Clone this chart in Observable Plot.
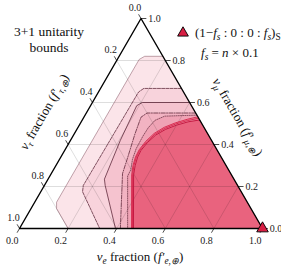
<!DOCTYPE html>
<html><head><meta charset="utf-8">
<script src="https://cdn.jsdelivr.net/npm/d3@7"></script>
<script src="https://cdn.jsdelivr.net/npm/@observablehq/plot@0.6"></script>
<style>
body{margin:0;background:#fff;}
#chart svg{display:block;}
</style></head><body><div id="chart"></div>
<script>
// ternary axis ticks
const tickValues = [0, 0.2, 0.4, 0.6, 0.8, 1.0];
const tickLabels = ["0.0", "0.2", "0.4", "0.6", "0.8", "1.0"];
const gridValues = [0.2, 0.4, 0.6, 0.8];

// region boundaries as [f_e, f_mu] pairs (f_tau = 1 - f_e - f_mu), from right edge to base
const layer1 = [[0.18,0.82],[0.105,0.82],[0.09,0.805],[0.09,0.125],[0.105,0.095],[0.20,0]];
const layer2 = [[0.333,0.667],[0.178,0.667],[0.165,0.65],[0.16,0.205],[0.172,0.175],[0.33,0]];
const layer3 = [[0.40,0.60],[0.205,0.60],[0.19,0.585],[0.205,0.42],[0.232,0.235],[0.25,0.205],[0.395,0]];
const layer4 = [[0.45,0.55],[0.25,0.55],[0.235,0.53],[0.25,0.45],[0.278,0.33],[0.293,0.262],[0.415,0]];
const layer5 = [[0.46,0.54],[0.33,0.535],[0.30,0.515],[0.29,0.48],[0.288,0.44],[0.29,0.38],[0.30,0.33],[0.318,0.28],[0.32,0.25],[0.445,0]];
const redEdge = [[0.483,0.517],[0.44,0.508],[0.40,0.492],[0.365,0.472],[0.338,0.445],[0.322,0.41],[0.314,0.372],[0.316,0.34],[0.326,0.30],[0.342,0.255],[0.469,0]];
const redLine2 = [[0.475,0.525],[0.435,0.514],[0.395,0.498],[0.36,0.477],[0.333,0.449],[0.317,0.412],[0.309,0.373],[0.311,0.34],[0.321,0.30],[0.338,0.255],[0.465,0]];
const redLine3 = [[0.468,0.532],[0.43,0.52],[0.39,0.503],[0.355,0.482],[0.328,0.453],[0.312,0.415],[0.305,0.375],[0.307,0.34],[0.317,0.30],[0.334,0.255],[0.461,0]];
const corners = [[0,0],[1,0],[0,1]];
const source = [[1,0]];

const tern = ([fe, fm]) => ({x: fe + fm / 2, y: fm});
const closed = pts => [...pts, [1, 0]].map(tern);
const open = pts => pts.map(tern);

const grid = [];
for (const v of gridValues) {
  grid.push({a: tern([v, 0]), b: tern([v, 1 - v])});
  grid.push({a: tern([0, v]), b: tern([1 - v, v])});
  grid.push({a: tern([1 - v, 0]), b: tern([0, 1 - v])});
}
const ticksData = tickValues.map((v, i) => ({v, label: tickLabels[i]}));

const dark = "#4a1426";
const red = "#d4173f";

const chart = Plot.plot({
  width: 281, height: 266,
  marginLeft: 19, marginRight: 19, marginTop: 18, marginBottom: 38,
  x: {domain: [0, 1], axis: null},
  y: {domain: [0, 1], axis: null},
  style: {fontFamily: "Liberation Serif", fontSize: "10px", overflow: "visible", background: "#fff"},
  marks: [
    Plot.line(closed(layer1), {x: "x", y: "y", fill: "#fbe4e9", stroke: "none"}),
    Plot.line(closed(layer2), {x: "x", y: "y", fill: "#f8d3dc", stroke: "none"}),
    Plot.line(closed(layer3), {x: "x", y: "y", fill: "#f5c3cf", stroke: "none"}),
    Plot.line(closed(layer4), {x: "x", y: "y", fill: "#f2b3c2", stroke: "none"}),
    Plot.line(closed(layer5), {x: "x", y: "y", fill: "#efa3b5", stroke: "none"}),
    Plot.line(closed(redLine3), {x: "x", y: "y", fill: "#ec8a9f", stroke: "none"}),
    Plot.line(closed(redEdge), {x: "x", y: "y", fill: "#e9637e", stroke: "none"}),
    Plot.link(grid, {x1: d => d.a.x, y1: d => d.a.y, x2: d => d.b.x, y2: d => d.b.y, stroke: "#000", strokeOpacity: 0.22, strokeWidth: 0.6}),
    Plot.line(open(layer1), {x: "x", y: "y", stroke: "#8a5a68", strokeWidth: 0.55}),
    Plot.line(open(layer2), {x: "x", y: "y", stroke: dark, strokeWidth: 0.7, strokeDasharray: "3,1.2"}),
    Plot.line(open(layer3), {x: "x", y: "y", stroke: dark, strokeWidth: 0.7}),
    Plot.line(open(layer4), {x: "x", y: "y", stroke: dark, strokeWidth: 0.7, strokeDasharray: "4,1.3,1,1.3"}),
    Plot.line(open(layer5), {x: "x", y: "y", stroke: dark, strokeWidth: 0.6, strokeDasharray: "1,1.2"}),
    Plot.line(open(redLine3), {x: "x", y: "y", stroke: red, strokeWidth: 0.8}),
    Plot.line(open(redLine2), {x: "x", y: "y", stroke: red, strokeWidth: 0.8}),
    Plot.line(open(redEdge), {x: "x", y: "y", stroke: "#c0103a", strokeWidth: 0.9}),
    Plot.line([...corners, corners[0]].map(tern), {x: "x", y: "y", stroke: "#000", strokeWidth: 1.4}),
    // ticks: f_e (bottom), f_mu (right), f_tau (left)
    Plot.link(ticksData, {x1: d => d.v, y1: 0, x2: d => d.v - 0.01, y2: -0.02, stroke: "#000", strokeWidth: 0.7}),
    Plot.link(ticksData, {x1: d => 1 - d.v / 2, y1: d => d.v, x2: d => 1 - d.v / 2 + 0.022, y2: d => d.v, stroke: "#000", strokeWidth: 0.7}),
    Plot.link(ticksData, {x1: d => (1 - d.v) / 2, y1: d => 1 - d.v, x2: d => -0.02 + (1.02 - d.v) / 2, y2: d => 1.02 - d.v, stroke: "#000", strokeWidth: 0.7}),
    Plot.text(ticksData, {x: d => d.v - 0.03, y: -0.06, text: "label", fill: "#222"}),
    Plot.text(ticksData, {x: d => 1.03 - d.v / 2, y: d => d.v, text: "label", textAnchor: "start", fill: "#222"}),
    Plot.text(ticksData, {x: d => -0.05 + (1.05 - d.v) / 2, y: d => 1.05 - d.v, text: "label", fill: "#222"}),
    Plot.dot(source.map(tern), {x: "x", y: "y", symbol: "triangle", r: 4.3, fill: "#d81f44", stroke: "#000", strokeWidth: 0.9})
  ]
});
document.getElementById("chart").appendChild(chart);

const svg = d3.select(chart);
function rich(x, y, rot, parts, size, anchor) {
  const t = svg.append("text")
    .attr("transform", `translate(${x},${y}) rotate(${rot})`)
    .attr("text-anchor", anchor || "middle")
    .attr("font-family", "Liberation Serif")
    .attr("font-size", size)
    .attr("fill", "#111");
  let shift = 0;
  for (const [s, kind] of parts) {
    const sp = t.append("tspan").text(s);
    const target = (kind === "sub" || kind === "isub") ? 3 : 0;
    if (target !== shift) { sp.attr("dy", target - shift); shift = target; }
    if (kind === "sub" || kind === "isub") sp.attr("font-size", size * 0.72);
    if (kind === "i" || kind === "isub") sp.attr("font-style", "italic");
  }
  return t;
}
rich(140, 261, 0, [["ν","i"],["e","isub"],[" fraction (",""],["f′","i"],["e,⊕","isub"],[")",""]], 13);
rich(48, 114, -60, [["ν","i"],["τ","isub"],[" fraction (",""],["f′","i"],["τ,⊕","isub"],[")",""]], 13);
rich(234, 119, 60, [["ν","i"],["μ","isub"],[" fraction (",""],["f′","i"],["μ,⊕","isub"],[")",""]], 13);
rich(49, 36, 0, [["3+1 unitarity",""]], 13.5);
rich(49, 52, 0, [["bounds",""]], 13.5);
svg.append("path").attr("d", d3.symbol(d3.symbolTriangle, 50)()).attr("transform", "translate(183,33)")
  .attr("fill", "#d81f44").attr("stroke", "#000").attr("stroke-width", 0.9);
rich(195, 37, 0, [["(1−",""],["f","i"],["s","isub"],[" : 0 : 0 : ",""],["f","i"],["s","isub"],[")",""],["S","sub"]], 13, "start");
rich(201, 57, 0, [["f","i"],["s","isub"],[" = ",""],["n","i"],[" × 0.1",""]], 13, "start");
</script></body></html>
